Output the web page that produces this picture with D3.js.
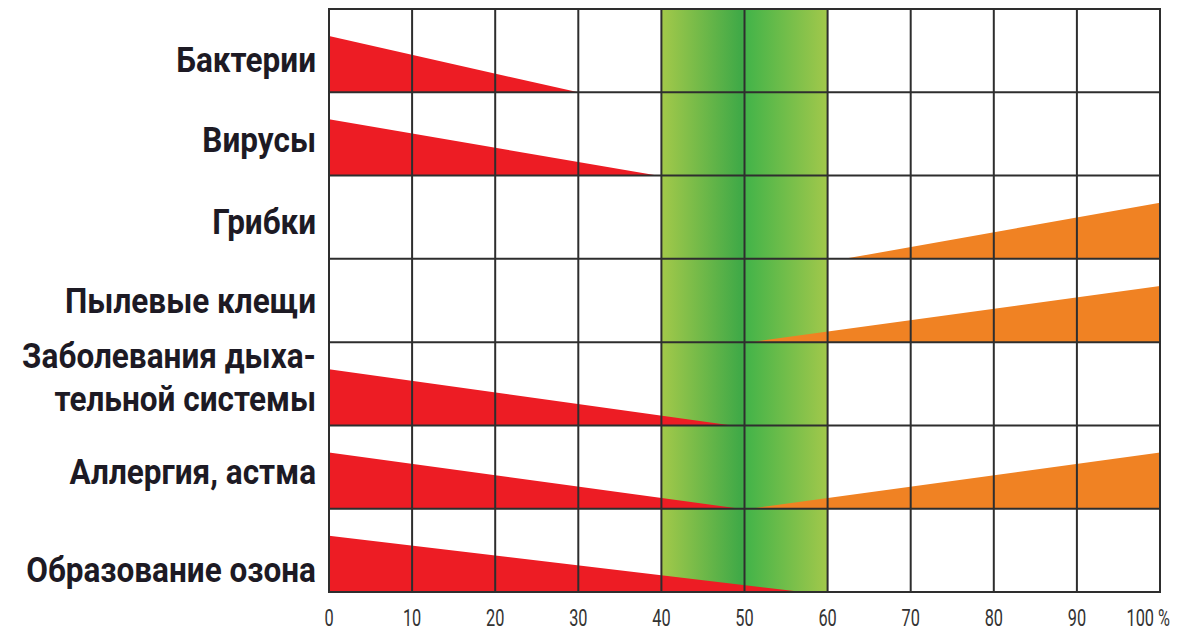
<!DOCTYPE html>
<html>
<head>
<meta charset="utf-8">
<script src="https://cdn.jsdelivr.net/npm/d3@7"></script>
<style>
    body { margin: 0; background: #fff; }
    svg { display: block; }
    .cat-label { font-family: Roboto, "Liberation Sans", sans-serif; font-weight: bold; font-size: 35px; fill: #1d1a24; }
    .tick-label { font-family: Roboto, "Liberation Sans", sans-serif; font-size: 24px; fill: #333; }
</style>
</head>
<body>
<div id="chart"></div>
<script>
// rows, top to bottom ("\n" = line break in the label)
const categories = [
    "Бактерии",
    "Вирусы",
    "Грибки",
    "Пылевые клещи",
    "Заболевания дыха-\nтельной системы",
    "Аллергия, астма",
    "Образование озона"
];
// humidity (%) where the red (too dry) wedge runs out, null = no wedge
const redEnd = [30, 39.5, null, null, 48.5, 49.5, 57];
// humidity (%) where the orange (too humid) wedge starts, null = no wedge
const orangeStart = [null, null, 62, 50.7, null, 50.7, null];
// optimal zone
const optimalZone = [40, 60];
const xTicks = [0, 10, 20, 30, 40, 50, 60, 70, 80, 90, 100];
const xTickLabels = ["0", "10", "20", "30", "40", "50", "60", "70", "80", "90", "100 %"];

// small vertical nudges for labels, like in the original layout
const labelNudge = [4, 1, 0, -5, 0, 0, 15];
const labelColumn = 294;   // widest label fits this width (condensed look)
const tickSqueeze = 0.68;

let margin = { top: 9, right: 33, bottom: 41, left: 329 },
    width = 1193 - margin.left - margin.right,
    height = 633 - margin.top - margin.bottom;

let svg = d3.select("#chart")
    .append("svg")
    .attr("width", width + margin.left + margin.right)
    .attr("height", height + margin.top + margin.bottom);

let defs = svg.append("defs");
let grad = defs.append("linearGradient")
    .attr("id", "optimal")
    .attr("x1", "0%").attr("x2", "100%")
    .attr("y1", "0%").attr("y2", "0%");
grad.append("stop").attr("offset", "0%").attr("stop-color", "#a3c94a");
grad.append("stop").attr("offset", "48%").attr("stop-color", "#3fa947");
grad.append("stop").attr("offset", "52%").attr("stop-color", "#45b449");
grad.append("stop").attr("offset", "100%").attr("stop-color", "#a2c84b");

let g = svg.append("g")
    .attr("transform", "translate(" + margin.left + "," + margin.top + ")");

let x = d3.scaleLinear()
    .domain([0, 100])
    .range([0, width]);

let y = d3.scaleBand()
    .domain(categories)
    .range([0, height]);

// wedge height: 100 = peak at the end of the axis
let h = d3.scaleLinear()
    .domain([0, 100])
    .range([0, y.bandwidth() * 0.675]);

// optimal band
g.append("rect")
    .attr("x", x(optimalZone[0]))
    .attr("y", 0)
    .attr("width", x(optimalZone[1]) - x(optimalZone[0]))
    .attr("height", height)
    .attr("fill", "url(#optimal)");

// red wedges (falling from 0 %)
categories.forEach(function (c, i) {
    if (redEnd[i] == null) return;
    let bottom = y(c) + y.bandwidth();
    g.append("path")
        .attr("d", d3.line()([
            [x(0), bottom],
            [x(0), bottom - h(100)],
            [x(redEnd[i]), bottom]
        ]) + "Z")
        .attr("fill", "#ed1c24");
});

// orange wedges (rising to 100 %)
categories.forEach(function (c, i) {
    if (orangeStart[i] == null) return;
    let bottom = y(c) + y.bandwidth();
    g.append("path")
        .attr("d", d3.line()([
            [x(orangeStart[i]), bottom],
            [x(100), bottom - h(100)],
            [x(100), bottom]
        ]) + "Z")
        .attr("fill", "#f08223");
});

// grid
g.selectAll(".vline")
    .data(xTicks)
    .enter()
    .append("line")
    .attr("x1", d => x(d)).attr("x2", d => x(d))
    .attr("y1", 0).attr("y2", height)
    .attr("stroke", "#2e2e2e")
    .attr("stroke-width", 2);

let rowEdges = categories.map(c => y(c)).concat([height]);
g.selectAll(".hline")
    .data(rowEdges)
    .enter()
    .append("line")
    .attr("x1", x(0) - 1).attr("x2", x(100) + 1)
    .attr("y1", d => d).attr("y2", d => d)
    .attr("stroke", "#2e2e2e")
    .attr("stroke-width", 2);

// x tick labels (squeezed horizontally to look condensed)
g.selectAll(".tick-label")
    .data(xTicks)
    .enter()
    .append("text")
    .attr("class", "tick-label")
    .attr("transform", (d, i) => "translate(" + (i == xTicks.length - 1 ? x(d) + 10 : x(d)) + "," + (height + 34) + ") scale(" + tickSqueeze + ",1)")
    .attr("text-anchor", (d, i) => i == xTicks.length - 1 ? "end" : "middle")
    .text((d, i) => xTickLabels[i]);

// row labels
let labelG = g.append("g");
categories.forEach(function (c, i) {
    let lines = c.split("\n");
    let mid = y(c) + y.bandwidth() / 2;
    lines.forEach(function (l, k) {
        let base = lines.length == 1 ? mid + 17 : mid - 16 + k * 43;
        labelG.append("text")
            .attr("class", "cat-label")
            .attr("text-anchor", "end")
            .attr("data-y", base + labelNudge[i])
            .text(l);
    });
});
// fit the widest label into the label column
let maxW = d3.max(labelG.selectAll("text").nodes(), n => n.getComputedTextLength());
let k = labelColumn / maxW;
labelG.selectAll("text")
    .attr("transform", function () {
        return "translate(-13," + this.getAttribute("data-y") + ") scale(" + k + ",1)";
    });
</script>
</body>
</html>
